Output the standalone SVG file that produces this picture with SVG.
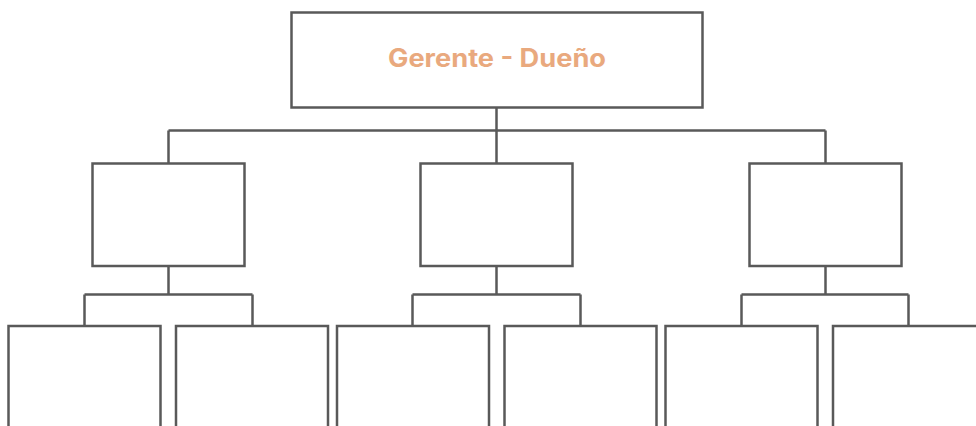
<svg xmlns="http://www.w3.org/2000/svg" width="976" height="426" viewBox="0 0 976 426">
<style>
.box{fill:#ffffff;stroke:#595959;stroke-width:2.5}
.con{fill:none;stroke:#595959;stroke-width:2.5}
.lbl{font-family:Inter,"Open Sans","Liberation Sans",sans-serif;font-weight:700;font-size:25px;fill:#E9A97E}
</style>
<rect width="976" height="426" fill="#ffffff"/>
<g id="connectors">
<path class="con" d="M496.5 107.5V130.5M168.5 130.5H825.5M168.5 130.5V163.5M496.5 130.5V163.5M825.5 130.5V163.5"/>
<path class="con" d="M168.5 266V294.5M84.5 294.5H252.5M84.5 294.5V326M252.5 294.5V326"/>
<path class="con" d="M496.5 266V294.5M412.5 294.5H580.5M412.5 294.5V326M580.5 294.5V326"/>
<path class="con" d="M825.5 266V294.5M741.5 294.5H908.5M741.5 294.5V326M908.5 294.5V326"/>
</g>
<g id="root">
<rect class="box" x="291.5" y="12.5" width="411" height="95"/>
<text class="lbl" x="497" y="67" text-anchor="middle" textLength="218" lengthAdjust="spacingAndGlyphs">Gerente - Dueño</text>
</g>
<g id="mid1"><rect class="box" x="92.5" y="163.5" width="152" height="102.5"/></g>
<g id="mid2"><rect class="box" x="420.5" y="163.5" width="152" height="102.5"/></g>
<g id="mid3"><rect class="box" x="749.5" y="163.5" width="152" height="102.5"/></g>
<g id="leaf1"><rect class="box" x="8.5" y="326" width="152" height="110"/></g>
<g id="leaf2"><rect class="box" x="176" y="326" width="152" height="110"/></g>
<g id="leaf3"><rect class="box" x="337" y="326" width="152" height="110"/></g>
<g id="leaf4"><rect class="box" x="504.5" y="326" width="152" height="110"/></g>
<g id="leaf5"><rect class="box" x="665.5" y="326" width="152" height="110"/></g>
<g id="leaf6"><rect class="box" x="833" y="326" width="152" height="110"/></g>
</svg>
